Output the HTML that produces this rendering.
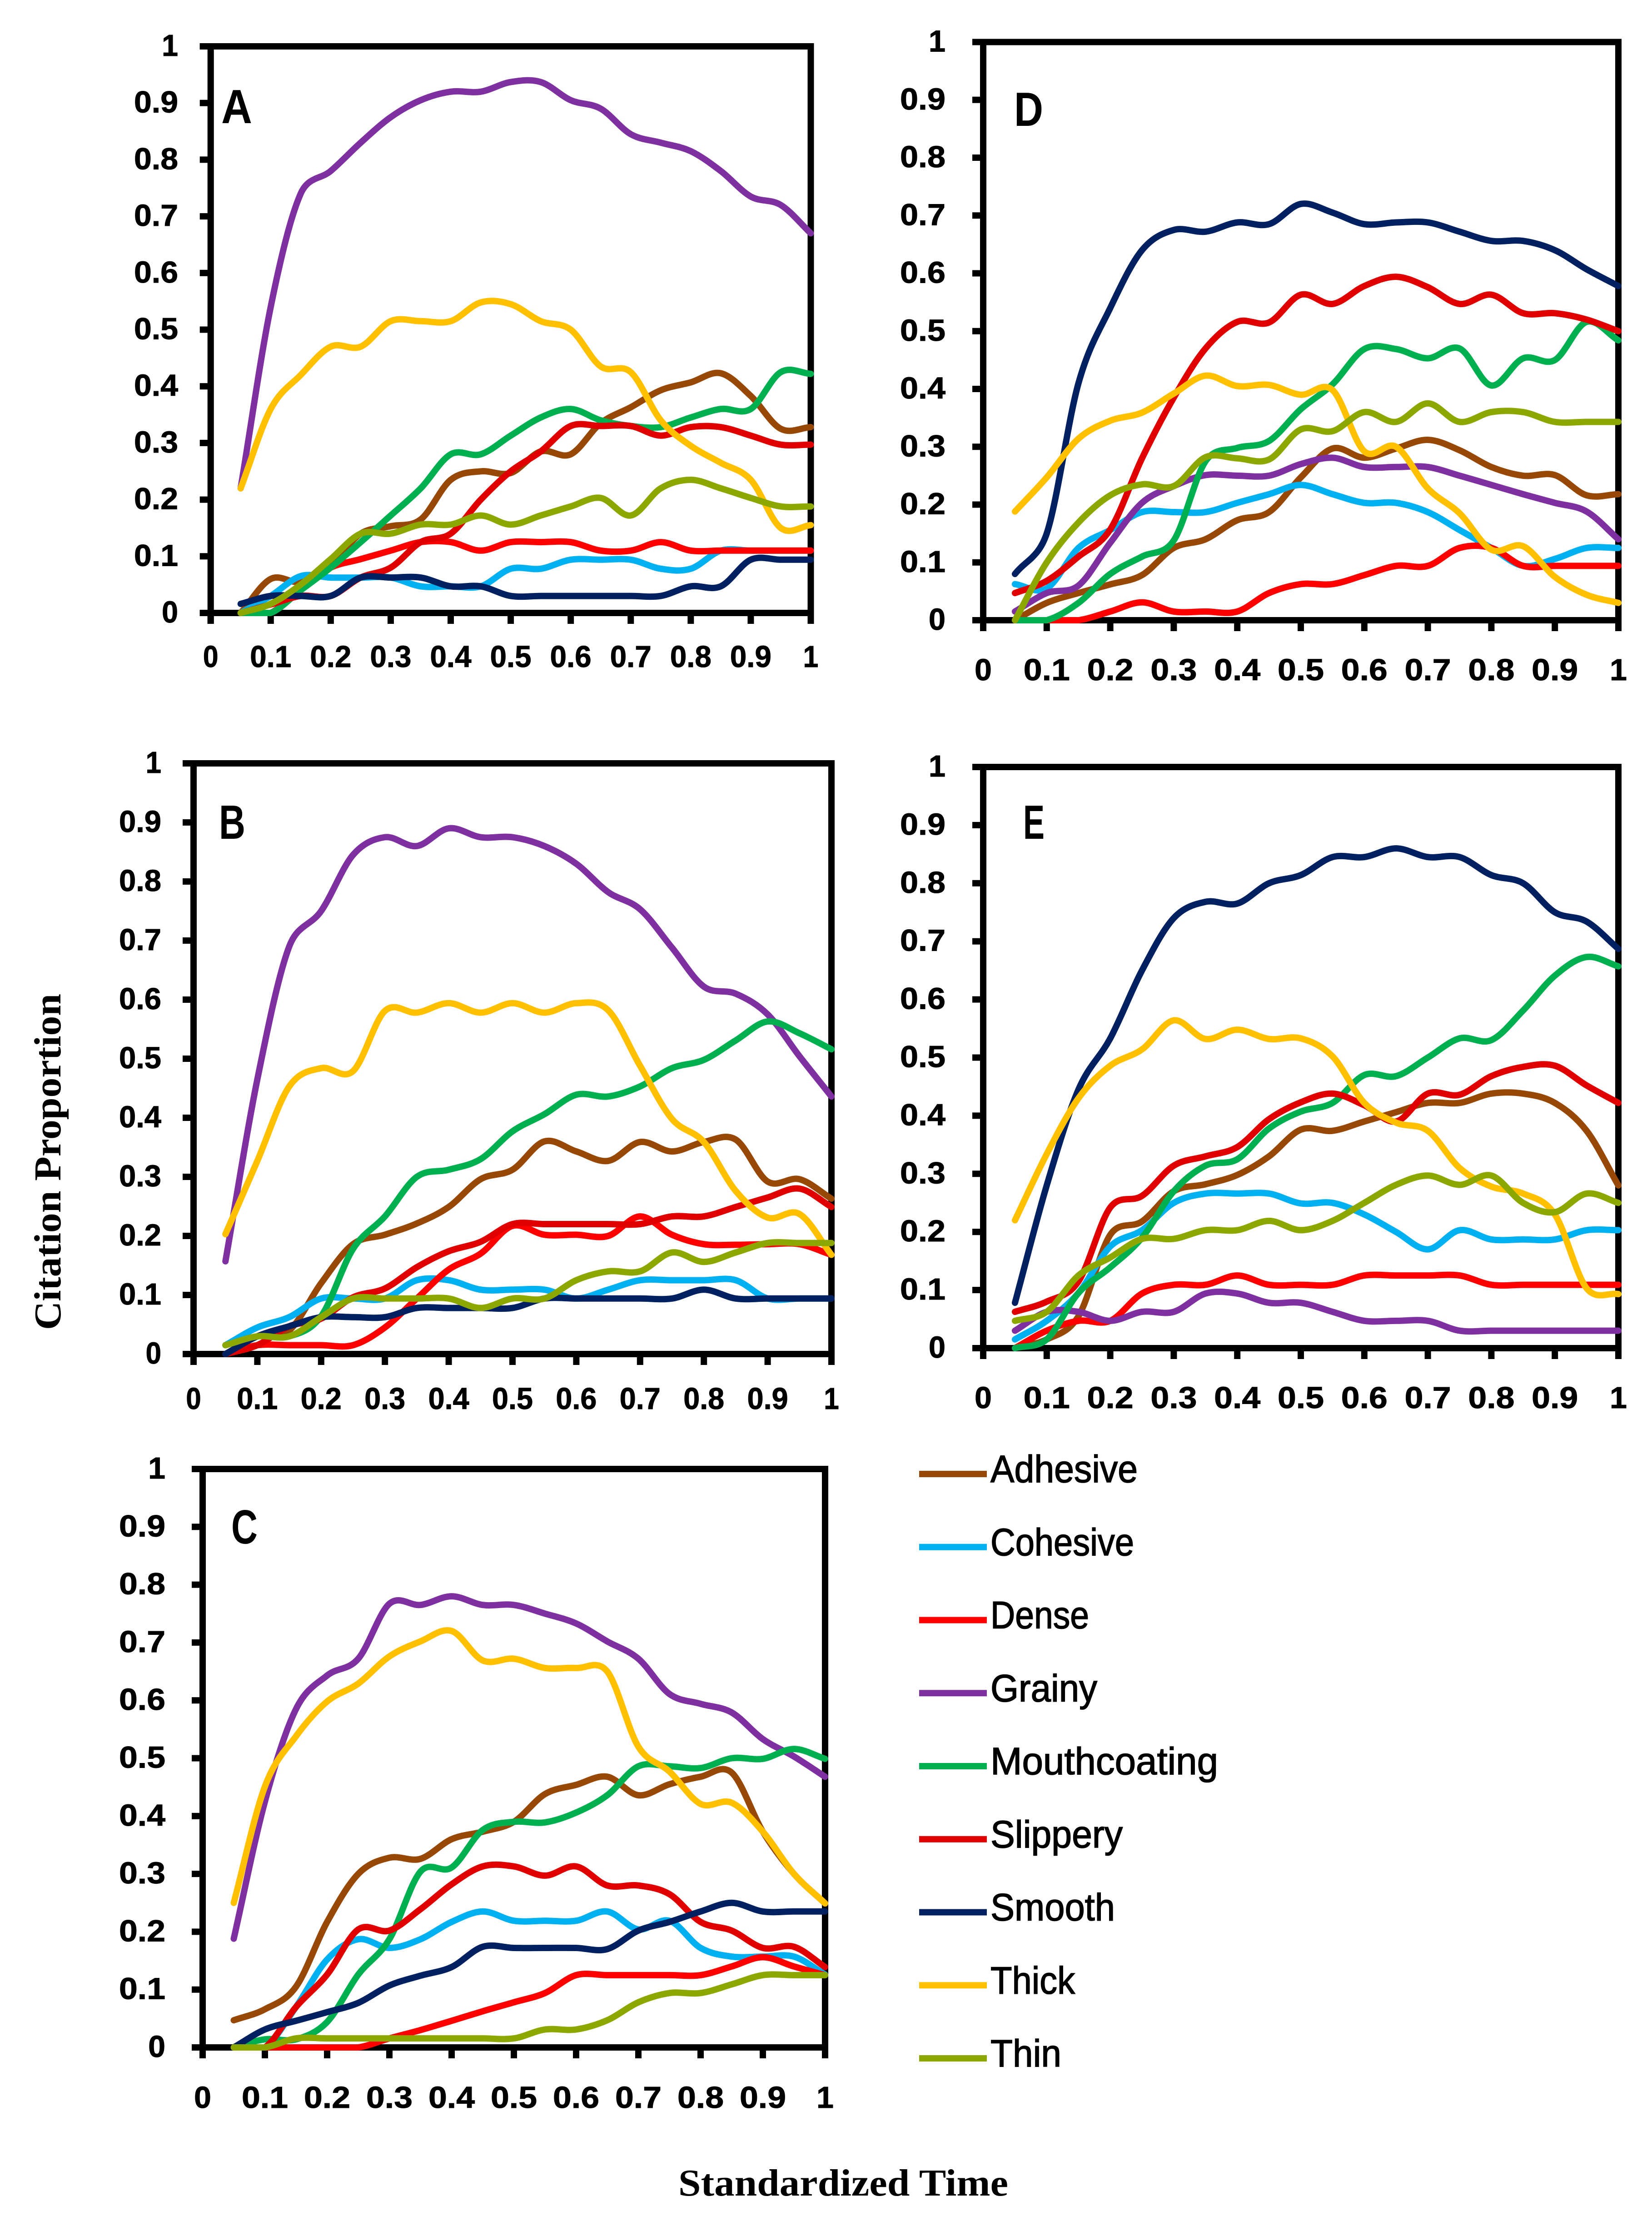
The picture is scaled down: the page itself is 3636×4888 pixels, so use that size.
<!DOCTYPE html>
<html lang="en">
<head>
<meta charset="utf-8">
<title>Citation Proportion over Standardized Time</title>
<style>
html,body{margin:0;padding:0;background:#fff;}
svg{display:block;}
text{font-family:"Liberation Sans",sans-serif;fill:#000;}
.tick{font-weight:bold;font-size:67px;stroke:#000;stroke-width:1px;}
.letter{font-weight:bold;font-size:106px;}
.title{font-family:"Liberation Serif",serif;font-weight:bold;font-size:84px;}
.legend-text{font-size:84px;stroke:#000;stroke-width:1.6px;}
</style>
</head>
<body>
<svg id="chart" xmlns="http://www.w3.org/2000/svg" width="3636" height="4888" viewBox="0 0 3636 4888">
  <rect x="0" y="0" width="3636" height="4888" fill="#ffffff"/>
  <text class="title" transform="translate(133,2927) rotate(-90)" textLength="740" lengthAdjust="spacingAndGlyphs">Citation Proportion</text>
  <text class="title" x="1493" y="4832" textLength="726" lengthAdjust="spacingAndGlyphs">Standardized Time</text>
</svg>
<script>
const timePoints = [0.05,0.1,0.15,0.2,0.25,0.3,0.35,0.4,0.45,0.5,0.55,0.6,0.65,0.7,0.75,0.8,0.85,0.9,0.95,1];
const tickValues = [0,0.1,0.2,0.3,0.4,0.5,0.6,0.7,0.8,0.9,1];
const tickLabels = ['0','0.1','0.2','0.3','0.4','0.5','0.6','0.7','0.8','0.9','1'];
const seriesNames = ['Adhesive','Cohesive','Dense','Grainy','Mouthcoating','Slippery','Smooth','Thick','Thin'];

// Panel A
const adhesiveA = [0,0.06,0.055,0.085,0.14,0.153,0.165,0.235,0.25,0.247,0.285,0.28,0.335,0.363,0.393,0.407,0.423,0.383,0.325,0.328];
const cohesiveA = [0,0.03,0.065,0.0625,0.0625,0.0625,0.047,0.047,0.047,0.078,0.078,0.094,0.094,0.094,0.078,0.078,0.11,0.11,0.11,0.11];
const denseA = [0,0,0.045,0.08,0.095,0.11,0.125,0.125,0.11,0.125,0.125,0.125,0.11,0.11,0.125,0.11,0.11,0.11,0.11,0.11];
const grainyA = [0.22,0.54,0.74,0.78,0.83,0.875,0.905,0.92,0.92,0.937,0.937,0.905,0.89,0.845,0.83,0.815,0.78,0.735,0.72,0.67];
const mouthA = [0,0,0.04,0.08,0.125,0.172,0.22,0.28,0.28,0.313,0.345,0.36,0.34,0.33,0.328,0.345,0.36,0.36,0.425,0.422];
const slipperyA = [0,0.015,0.03,0.03,0.0625,0.08,0.125,0.14,0.2,0.25,0.285,0.33,0.33,0.33,0.313,0.328,0.328,0.313,0.297,0.297];
const smoothA = [0.016,0.03,0.03,0.03,0.0625,0.0625,0.0625,0.047,0.047,0.03,0.03,0.03,0.03,0.03,0.03,0.047,0.047,0.094,0.094,0.094];
const thickA = [0.22,0.36,0.42,0.47,0.47,0.515,0.515,0.515,0.548,0.545,0.515,0.5,0.435,0.425,0.34,0.295,0.265,0.235,0.15,0.155];
const thinA = [0,0.016,0.05,0.095,0.14,0.14,0.156,0.156,0.172,0.156,0.172,0.188,0.203,0.172,0.22,0.235,0.22,0.203,0.188,0.188];

// Panel B
const adhesiveB = [0,0.03,0.04,0.12,0.186,0.202,0.221,0.249,0.296,0.312,0.36,0.343,0.327,0.359,0.343,0.359,0.363,0.292,0.296,0.263];
const cohesiveB = [0.015,0.045,0.0625,0.094,0.094,0.094,0.125,0.125,0.109,0.109,0.109,0.094,0.109,0.125,0.125,0.125,0.125,0.094,0.094,0.094];
const denseB = [0,0.015,0.015,0.015,0.015,0.045,0.094,0.143,0.17,0.217,0.202,0.202,0.2,0.233,0.202,0.186,0.185,0.186,0.186,0.168];
const grainyB = [0.157,0.465,0.69,0.75,0.845,0.875,0.86,0.89,0.875,0.875,0.86,0.83,0.782,0.753,0.688,0.622,0.61,0.575,0.504,0.436];
const mouthB = [0.015,0.03,0.03,0.064,0.178,0.233,0.3,0.312,0.33,0.377,0.406,0.439,0.436,0.453,0.484,0.498,0.531,0.563,0.543,0.516];
const slipperyB = [0,0.015,0.047,0.06,0.096,0.111,0.147,0.174,0.19,0.22,0.22,0.22,0.22,0.22,0.233,0.233,0.249,0.265,0.28,0.249];
const smoothB = [0,0.03,0.047,0.0625,0.0625,0.0625,0.078,0.078,0.078,0.078,0.094,0.094,0.094,0.094,0.094,0.109,0.094,0.094,0.094,0.094];
const thickB = [0.203,0.327,0.453,0.484,0.479,0.581,0.578,0.594,0.578,0.594,0.578,0.594,0.582,0.488,0.398,0.359,0.276,0.231,0.237,0.168];
const thinB = [0.015,0.03,0.03,0.0625,0.094,0.094,0.094,0.094,0.078,0.094,0.094,0.125,0.14,0.14,0.172,0.156,0.172,0.188,0.188,0.188];

// Panel C
const adhesiveC = [0.047,0.066,0.105,0.217,0.3,0.328,0.326,0.36,0.373,0.39,0.438,0.454,0.468,0.436,0.455,0.468,0.475,0.373,0.3,0.249];
const cohesiveC = [0,0,0.07,0.152,0.187,0.172,0.187,0.217,0.235,0.219,0.219,0.219,0.235,0.204,0.219,0.172,0.157,0.157,0.157,0.126];
const denseC = [0,0,0,0,0,0.0156,0.03,0.046,0.0625,0.078,0.094,0.125,0.125,0.125,0.125,0.125,0.14,0.156,0.14,0.125];
const grainyC = [0.188,0.425,0.585,0.643,0.672,0.767,0.765,0.78,0.765,0.765,0.75,0.733,0.702,0.672,0.611,0.594,0.579,0.533,0.503,0.468];
const mouthC = [0,0.014,0.014,0.044,0.126,0.187,0.304,0.311,0.376,0.39,0.389,0.406,0.436,0.486,0.486,0.483,0.5,0.499,0.516,0.499];
const slipperyC = [0,0,0.07,0.126,0.204,0.202,0.239,0.282,0.313,0.313,0.297,0.313,0.28,0.28,0.265,0.217,0.202,0.172,0.174,0.139];
const smoothC = [0,0.031,0.046,0.061,0.077,0.107,0.124,0.139,0.174,0.172,0.172,0.172,0.17,0.202,0.217,0.235,0.25,0.235,0.235,0.235];
const thickC = [0.25,0.451,0.538,0.598,0.629,0.676,0.702,0.72,0.669,0.672,0.656,0.656,0.65,0.52,0.477,0.421,0.423,0.373,0.3,0.249];
const thinC = [0,0,0.0156,0.0156,0.0156,0.0156,0.0156,0.0156,0.0156,0.0156,0.031,0.031,0.047,0.078,0.094,0.094,0.109,0.125,0.125,0.125];

// Panel D
const adhesiveD = [0,0.03,0.047,0.062,0.078,0.125,0.14,0.173,0.187,0.247,0.297,0.281,0.297,0.312,0.294,0.265,0.25,0.251,0.216,0.218];
const cohesiveD = [0.0625,0.055,0.125,0.156,0.187,0.187,0.187,0.203,0.218,0.234,0.218,0.203,0.203,0.187,0.156,0.125,0.094,0.106,0.125,0.125];
const denseD = [0,0,0,0.015,0.031,0.015,0.015,0.015,0.047,0.0625,0.0625,0.078,0.094,0.094,0.125,0.125,0.094,0.094,0.094,0.094];
const grainyD = [0.015,0.047,0.06,0.134,0.203,0.232,0.251,0.25,0.25,0.27,0.281,0.265,0.265,0.265,0.25,0.234,0.218,0.203,0.188,0.14];
const mouthD = [0,0,0.03,0.08,0.11,0.138,0.275,0.298,0.31,0.365,0.408,0.469,0.469,0.453,0.47,0.406,0.453,0.45,0.516,0.484];
const slipperyD = [0.047,0.068,0.11,0.157,0.28,0.385,0.47,0.516,0.515,0.563,0.547,0.578,0.594,0.576,0.547,0.563,0.531,0.531,0.52,0.5];
const smoothD = [0.08,0.15,0.41,0.54,0.64,0.675,0.672,0.688,0.685,0.72,0.705,0.685,0.688,0.688,0.672,0.656,0.656,0.64,0.607,0.578];
const thickD = [0.188,0.247,0.314,0.345,0.359,0.392,0.423,0.405,0.407,0.39,0.398,0.292,0.3,0.228,0.185,0.122,0.128,0.075,0.044,0.03];
const thinD = [0,0.1,0.169,0.216,0.235,0.232,0.282,0.28,0.278,0.33,0.327,0.36,0.343,0.375,0.343,0.36,0.36,0.343,0.343,0.343];

// Panel E
const adhesiveE = [0,0.015,0.055,0.195,0.218,0.27,0.282,0.298,0.33,0.376,0.374,0.39,0.406,0.422,0.422,0.438,0.438,0.422,0.374,0.28];
const cohesiveE = [0.015,0.047,0.095,0.175,0.203,0.25,0.266,0.266,0.266,0.249,0.25,0.23,0.2,0.17,0.203,0.187,0.187,0.187,0.203,0.203];
const denseE = [0,0.03,0.047,0.047,0.094,0.109,0.109,0.125,0.109,0.109,0.109,0.125,0.125,0.125,0.125,0.109,0.109,0.109,0.109,0.109];
const grainyE = [0.03,0.0625,0.0625,0.047,0.0625,0.0625,0.094,0.094,0.078,0.078,0.0625,0.047,0.047,0.047,0.03,0.03,0.03,0.03,0.03,0.03];
const mouthE = [0,0.015,0.095,0.139,0.19,0.27,0.314,0.325,0.378,0.407,0.422,0.47,0.468,0.5,0.533,0.53,0.581,0.641,0.673,0.657];
const slipperyE = [0.0625,0.08,0.115,0.242,0.262,0.314,0.33,0.346,0.394,0.423,0.438,0.418,0.39,0.438,0.436,0.468,0.484,0.486,0.452,0.422];
const smoothE = [0.078,0.28,0.445,0.533,0.65,0.74,0.768,0.765,0.8,0.814,0.845,0.845,0.86,0.845,0.845,0.814,0.8,0.75,0.734,0.687];
const thickE = [0.22,0.334,0.43,0.486,0.514,0.564,0.532,0.548,0.532,0.533,0.502,0.422,0.388,0.374,0.31,0.278,0.266,0.23,0.103,0.093];
const thinE = [0.047,0.0625,0.125,0.156,0.188,0.188,0.203,0.203,0.219,0.203,0.219,0.25,0.281,0.297,0.281,0.297,0.25,0.234,0.266,0.25];

const panelAValues = [adhesiveA,cohesiveA,denseA,grainyA,mouthA,slipperyA,smoothA,thickA,thinA];
const panelBValues = [adhesiveB,cohesiveB,denseB,grainyB,mouthB,slipperyB,smoothB,thickB,thinB];
const panelCValues = [adhesiveC,cohesiveC,denseC,grainyC,mouthC,slipperyC,smoothC,thickC,thinC];
const panelDValues = [adhesiveD,cohesiveD,denseD,grainyD,mouthD,slipperyD,smoothD,thickD,thinD];
const panelEValues = [adhesiveE,cohesiveE,denseE,grainyE,mouthE,slipperyE,smoothE,thickE,thinE];

// Styling and layout (separate from the data)
const seriesColors = ['#974706','#00B0F0','#FF0000','#7F30A0','#00B050','#E00000','#002060','#FFC000','#8CA800'];
const layoutA = {key:'a',letter:'A',values:panelAValues,left:463.7,right:1784.5,top:102,bottom:1349,labelRight:392,xBase:1468,yWidth:97,xWidth:91,letterX:487,letterBase:271,letterW:68};
const layoutB = {key:'b',letter:'B',values:panelBValues,left:426,right:1830,top:1680,bottom:2980,labelRight:355,xBase:3101,yWidth:93,xWidth:90,letterX:482,letterBase:1846,letterW:58};
const layoutC = {key:'c',letter:'C',values:panelCValues,left:446,right:1816,top:3233,bottom:4506,labelRight:364,xBase:4639,yWidth:102,xWidth:102,letterX:509,letterBase:3397,letterW:58};
const layoutD = {key:'d',letter:'D',values:panelDValues,left:2164,right:3562,top:92.5,bottom:1365,labelRight:2081,xBase:1497,yWidth:100,xWidth:102,letterX:2232,letterBase:277,letterW:64};
const layoutE = {key:'e',letter:'E',values:panelEValues,left:2164,right:3562,top:1688,bottom:2967,labelRight:2081,xBase:3099,yWidth:100,xWidth:102,letterX:2252,letterBase:1846,letterW:47};
const panelLayouts = [layoutA,layoutB,layoutC,layoutD,layoutE];
const legendTop = 3244, legendBottom = 4530;
const legendTextWidths = [324,316,217,235,501,291,274,186,156];

const SVG_NS = 'http://www.w3.org/2000/svg';
const svg = document.getElementById('chart');
const SPINE = 14;
const TICK_OUT = 24;
const LINE_W = 14;

function make(tag, attrs) {
  const el = document.createElementNS(SVG_NS, tag);
  for (const k in attrs) el.setAttribute(k, attrs[k]);
  svg.appendChild(el);
  return el;
}
function xScale(p, v) { return p.left + (p.right - p.left) * v; }
function yScale(p, v) { return p.bottom - (p.bottom - p.top) * v; }

// Spreadsheet-style smoothing: tangent handles limited by the length of the current segment.
function smoothPath(p, values) {
  const pts = values.map(function (v, i) { return [xScale(p, timePoints[i]), yScale(p, v)]; });
  const n = pts.length;
  const dist = function (a, b) { return Math.hypot(a[0] - b[0], a[1] - b[1]) || 1e-6; };
  let d = 'M' + pts[0][0].toFixed(1) + ' ' + pts[0][1].toFixed(1);
  for (let i = 0; i < n - 1; i++) {
    const p0 = pts[Math.max(i - 1, 0)], p1 = pts[i], p2 = pts[i + 1], p3 = pts[Math.min(i + 2, n - 1)];
    const d12 = dist(p1, p2), d02 = dist(p0, p2), d13 = dist(p1, p3);
    const base1 = i === 0 ? 1 / 3 : 1 / 6;
    const base2 = i === n - 2 ? 1 / 3 : 1 / 6;
    const f1 = Math.min(base1, d12 / 2 / d02);
    const f2 = Math.min(base2, d12 / 2 / d13);
    const c1x = p1[0] + (p2[0] - p0[0]) * f1;
    const c1y = Math.min(p.bottom, p1[1] + (p2[1] - p0[1]) * f1);
    const c2x = p2[0] - (p3[0] - p1[0]) * f2;
    const c2y = Math.min(p.bottom, p2[1] - (p3[1] - p1[1]) * f2);
    d += 'C' + c1x.toFixed(1) + ' ' + c1y.toFixed(1) + ' ' +
         c2x.toFixed(1) + ' ' + c2y.toFixed(1) + ' ' +
         p2[0].toFixed(1) + ' ' + p2[1].toFixed(1);
  }
  return d;
}

function drawPanel(p) {
  const h = SPINE / 2;
  const top = make('rect', {x: p.left - TICK_OUT, y: p.top - h, width: p.right - p.left + TICK_OUT + h, height: SPINE, fill: '#000'});
  
  
  const rightLine = make('rect', {x: p.right - h, y: p.top - h, width: SPINE, height: p.bottom - p.top + h + TICK_OUT, fill: '#000'});
  
  
  const leftLine = make('rect', {x: p.left - h, y: p.top - h, width: SPINE, height: p.bottom - p.top + h + TICK_OUT, fill: '#000'});
  
  
  const bottomLine = make('rect', {x: p.left - TICK_OUT, y: p.bottom - h, width: p.right - p.left + TICK_OUT + h, height: SPINE, fill: '#000'});
  
  

  tickValues.forEach(function (v, i) {
    const yTick = make('rect', {x: p.left - TICK_OUT, y: yScale(p, v) - h, width: TICK_OUT, height: SPINE, fill: '#000'});
    
    
    const xTick = make('rect', {x: xScale(p, v) - h, y: p.bottom, width: SPINE, height: TICK_OUT, fill: '#000'});
    
    

    const short = tickLabels[i].length === 1;
    const yLabel = make('text', {class: 'tick', x: p.labelRight, y: yScale(p, v) + 21, 'text-anchor': 'end', textLength: short ? p.yWidth * 0.37 : p.yWidth, lengthAdjust: 'spacingAndGlyphs'});
    yLabel.textContent = tickLabels[i];
    
    
    const xLabel = make('text', {class: 'tick', x: xScale(p, v), y: p.xBase, 'text-anchor': 'middle', textLength: short ? p.xWidth * 0.37 : p.xWidth, lengthAdjust: 'spacingAndGlyphs'});
    xLabel.textContent = tickLabels[i];
    
    
  });

  const letter = make('text', {class: 'letter', x: p.letterX, y: p.letterBase, textLength: p.letterW, lengthAdjust: 'spacingAndGlyphs'});
  letter.textContent = p.letter;
  
  

  p.values.forEach(function (vals, s) {
    const line = make('path', {d: smoothPath(p, vals), fill: 'none', stroke: seriesColors[s], 'stroke-width': LINE_W, 'stroke-linecap': 'round', 'stroke-linejoin': 'round'});
    
    
  });
}

function drawLegend() {
  seriesNames.forEach(function (name, i) {
    const y = legendTop + (legendBottom - legendTop) * i / (seriesNames.length - 1);
    const swatch = make('rect', {x: 2023, y: y - 7, width: 149, height: 14, fill: seriesColors[i]});
    
    
    const label = make('text', {class: 'legend-text', x: 2180, y: y + 18, textLength: legendTextWidths[i], lengthAdjust: 'spacingAndGlyphs'});
    label.textContent = name;
    
    
  });
}

panelLayouts.forEach(drawPanel);
drawLegend();
</script>
</body>
</html>
